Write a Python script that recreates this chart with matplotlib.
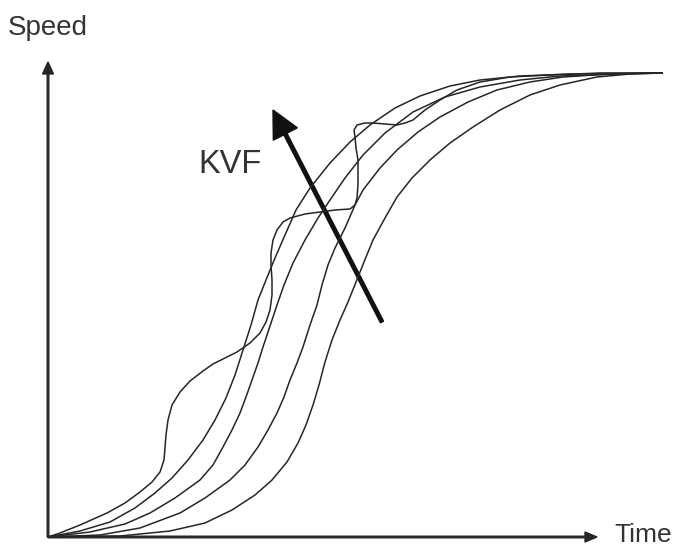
import matplotlib.pyplot as plt

# Speed response curves for increasing KVF (values read off the picture,
# time and speed in arbitrary units, origin at the axes corner)
a_time = [0, 32, 62, 87, 107, 124, 140, 155, 167, 178, 187, 195, 203, 210, 218, 227, 237, 248,
          262, 282, 302, 322, 347, 372, 402, 432, 472, 522, 614]
a_speed = [0, 6, 15, 29, 44, 59, 77, 97, 117, 139, 162, 187, 212, 237, 257, 279, 302, 327,
           349, 374, 395, 412, 429, 441, 451, 457, 461, 463, 464]

b_time = [0, 42, 77, 102, 127, 152, 165, 175, 184, 192, 198, 204, 210, 215, 222, 229, 236, 245,
          257, 270, 282, 297, 315, 337, 365, 397, 432, 472, 512, 572, 614]
b_speed = [0, 5, 13, 24, 39, 57, 72, 90, 107, 124, 140, 157, 174, 190, 211, 232, 252, 274,
           297, 319, 337, 359, 382, 404, 425, 440, 450, 457, 461, 463, 464]

c_time = [0, 52, 92, 132, 157, 182, 197, 210, 220, 229, 236, 242, 249, 255, 262, 269, 274, 280,
          287, 297, 307, 315, 332, 349, 370, 392, 420, 449, 482, 515, 562, 614]
c_speed = [0, 2, 9, 24, 39, 57, 72, 90, 107, 124, 140, 157, 174, 190, 212, 232, 252, 272,
           289, 309, 332, 347, 369, 387, 405, 420, 435, 447, 455, 460, 463, 464]

d_time = [0, 72, 122, 157, 184, 207, 224, 239, 250, 258, 265, 271, 277, 284, 292, 300, 308, 316,
          325, 337, 349, 364, 382, 402, 425, 452, 482, 512, 549, 582, 614]
d_speed = [0, 1, 6, 14, 27, 42, 57, 75, 94, 112, 132, 152, 175, 197, 217, 235, 255, 275,
           297, 319, 340, 359, 377, 394, 410, 427, 442, 452, 460, 463, 464]

# oscillating response (highest KVF)
o_time = [0, 12, 32, 59, 77, 92, 104, 112, 116, 117, 118, 120, 124, 132, 142, 155, 165, 189,
          202, 212, 218, 222, 224, 224, 223, 223, 225, 229, 235, 242, 257, 272, 287, 302,
          307, 309, 310, 310, 310, 308, 307, 306, 309, 317, 325, 337, 349, 357, 365, 377,
          392, 409, 432, 462, 502, 552, 614]
o_speed = [0, 4, 12, 24, 34, 45, 55, 65, 77, 89, 102, 117, 132, 145, 156, 166, 173, 185,
           194, 204, 215, 227, 242, 257, 272, 284, 297, 307, 315, 319, 323, 325, 327, 328,
           332, 339, 352, 367, 377, 389, 400, 407, 412, 414, 414, 413, 412, 414, 417, 427,
           437, 447, 455, 460, 462, 464, 464]

curves = [(a_time, a_speed), (b_time, b_speed), (c_time, c_speed),
          (d_time, d_speed), (o_time, o_speed)]

# KVF arrow (tail -> tip) and axis extents
kvf_tail = (334, 215)
kvf_tip = (225, 427)
time_axis_end = 549
speed_axis_end = 475

fig = plt.figure(figsize=(6.77, 5.47), dpi=100)
ax = fig.add_axes([48 / 677, 10 / 547, 629 / 677, 527 / 547])
ax.set_xlim(0, 629)
ax.set_ylim(0, 527)
ax.axis("off")

line_color = "#262626"
text_color = "#333333"

for t, v in curves:
    ax.plot(t, v, color=line_color, lw=1.1, solid_joinstyle="round", clip_on=False)

# axes with arrow heads
ax.arrow(0, 0, time_axis_end, 0, width=1.6, head_width=10, head_length=12,
         length_includes_head=True, color=line_color, clip_on=False)
ax.arrow(0, 0, 0, speed_axis_end, width=1.6, head_width=11, head_length=12,
         length_includes_head=True, color=line_color, clip_on=False)

# KVF arrow
ax.arrow(kvf_tail[0], kvf_tail[1], kvf_tip[0] - kvf_tail[0], kvf_tip[1] - kvf_tail[1],
         width=3.5, head_width=27, head_length=27, length_includes_head=True,
         color="#111111")

ax.text(150, 364, "KVF", fontsize=23.5, family="Liberation Sans", color=text_color,
        ha="left", va="baseline")
ax.text(-40, 502, "Speed", fontsize=20, family="Liberation Sans", color=text_color,
        ha="left", va="baseline", clip_on=False)
ax.text(566, -5, "Time", fontsize=19, family="Liberation Sans", color=text_color,
        ha="left", va="baseline", clip_on=False)

fig.savefig("out.png", dpi=100)
